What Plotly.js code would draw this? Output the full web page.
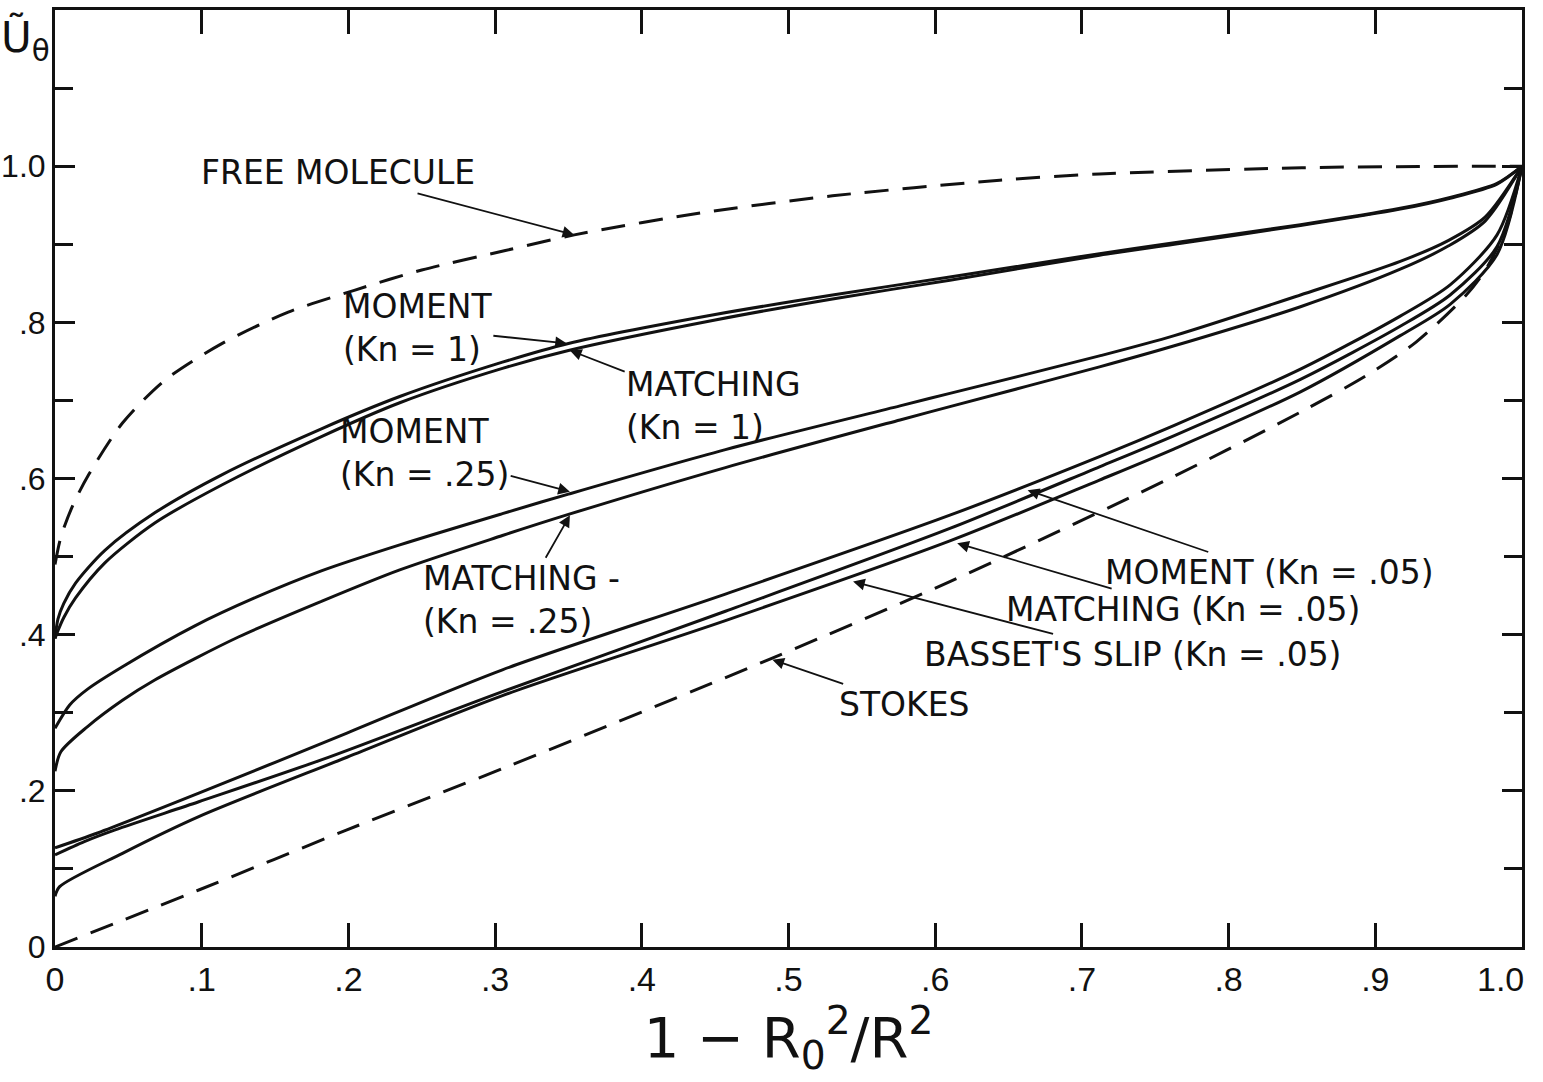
<!DOCTYPE html>
<html>
<head>
<meta charset="utf-8">
<script src="https://cdn.plot.ly/plotly-3.0.1.min.js"></script>
<style>html,body{margin:0;padding:0;background:#fff;}#chart{width:1543px;height:1082px;}</style>
</head>
<body>
<div id="chart"></div>
<script>
// ---- data ----
const xFree = [0, 0.004, 0.012, 0.023, 0.046, 0.075, 0.114, 0.159, 0.204, 0.25, 0.307, 0.354, 0.44, 0.53, 0.644, 0.712, 0.85, 0.93, 1.0];
const yFree = [0.49, 0.525, 0.565, 0.605, 0.671, 0.726, 0.773, 0.813, 0.841, 0.867, 0.892, 0.912, 0.94, 0.962, 0.982, 0.99, 0.998, 0.9995, 1.0];

const xMomKn1 = [0, 0.002, 0.006, 0.014, 0.034, 0.068, 0.114, 0.182, 0.235, 0.305, 0.35, 0.45, 0.53, 0.61, 0.712, 0.763, 0.849, 0.917, 0.951, 0.983, 1.0];
const yMomKn1 = [0.395, 0.42, 0.44, 0.466, 0.508, 0.556, 0.605, 0.664, 0.705, 0.749, 0.773, 0.81, 0.835, 0.858, 0.888, 0.902, 0.925, 0.946, 0.96, 0.978, 1.0];

const xMatKn1 = [0, 0.002, 0.006, 0.014, 0.034, 0.068, 0.114, 0.182, 0.235, 0.305, 0.35, 0.45, 0.53, 0.61, 0.712, 0.763, 0.849, 0.917, 0.951, 0.983, 1.0];
const yMatKn1 = [0.395, 0.405, 0.422, 0.447, 0.492, 0.543, 0.592, 0.654, 0.697, 0.741, 0.764, 0.803, 0.83, 0.854, 0.886, 0.9, 0.924, 0.945, 0.959, 0.977, 1.0];

const xMomKn25 = [0, 0.01, 0.022, 0.046, 0.095, 0.136, 0.182, 0.235, 0.305, 0.35, 0.457, 0.576, 0.61, 0.712, 0.763, 0.849, 0.917, 0.95, 0.975, 1.0];
const yMomKn25 = [0.28, 0.31, 0.33, 0.359, 0.411, 0.447, 0.482, 0.515, 0.555, 0.58, 0.637, 0.693, 0.709, 0.757, 0.783, 0.835, 0.878, 0.905, 0.935, 1.0];

const xMatKn25 = [0, 0.004, 0.022, 0.046, 0.068, 0.125, 0.182, 0.235, 0.305, 0.35, 0.457, 0.576, 0.61, 0.712, 0.763, 0.849, 0.917, 0.95, 0.975, 1.0];
const yMatKn25 = [0.225, 0.25, 0.282, 0.316, 0.342, 0.397, 0.443, 0.483, 0.527, 0.554, 0.614, 0.675, 0.692, 0.743, 0.77, 0.82, 0.868, 0.898, 0.93, 1.0];

const xMomKn05 = [0, 0.029, 0.098, 0.199, 0.305, 0.457, 0.61, 0.712, 0.763, 0.849, 0.917, 0.951, 0.983, 1.0];
const yMomKn05 = [0.127, 0.146, 0.197, 0.274, 0.355, 0.452, 0.553, 0.628, 0.668, 0.74, 0.808, 0.848, 0.912, 1.0];

const xMatKn05 = [0, 0.02, 0.041, 0.098, 0.182, 0.305, 0.457, 0.61, 0.712, 0.763, 0.849, 0.917, 0.951, 0.983, 1.0];
const yMatKn05 = [0.118, 0.135, 0.15, 0.186, 0.24, 0.327, 0.43, 0.536, 0.615, 0.655, 0.727, 0.795, 0.835, 0.897, 1.0];

const xBasset = [0, 0.003, 0.046, 0.098, 0.199, 0.305, 0.457, 0.61, 0.712, 0.763, 0.849, 0.917, 0.951, 0.983, 1.0];
const yBasset = [0.065, 0.077, 0.12, 0.167, 0.243, 0.322, 0.418, 0.52, 0.598, 0.638, 0.711, 0.783, 0.823, 0.887, 1.0];

const xStokes = [0, 0.098, 0.199, 0.307, 0.489, 0.61, 0.763, 0.849, 0.894, 0.928, 0.962, 0.976, 0.99, 1.0];
const yStokes = [0, 0.073, 0.15, 0.23, 0.37, 0.468, 0.603, 0.685, 0.732, 0.775, 0.835, 0.87, 0.925, 1.0];

const xTickVals = [0, 0.1, 0.2, 0.3, 0.4, 0.5, 0.6, 0.7, 0.8, 0.9, 1.0];
const xTickText = ['0', '.1', '.2', '.3', '.4', '.5', '.6', '.7', '.8', '.9', ''];
const xLastTickLabel = '1.0';
const yTickVals = [0, 0.2, 0.4, 0.6, 0.8, 1.0];
const yTickText = ['0', '.2', '.4', '.6', '.8', '1.0'];

const labelText = ['FREE MOLECULE', 'MOMENT<br>(Kn = 1)', 'MATCHING<br>(Kn = 1)', 'MOMENT<br>(Kn = .25)', 'MATCHING -<br>(Kn = .25)',
  'MOMENT (Kn = .05)', 'MATCHING (Kn = .05)', "BASSET'S SLIP (Kn = .05)", 'STOKES'];
const labelTipX = [0.354, 0.349, 0.351, 0.351, 0.351, 0.663, 0.615, 0.544, 0.489];
const labelTipY = [0.912, 0.773, 0.764, 0.583, 0.553, 0.585, 0.517, 0.468, 0.368];
const labelPosX = [0.193, 0.247, 0.449, 0.252, 0.318, 0.828, 0.769, 0.735, 0.579];
const labelPosY = [0.992, 0.793, 0.693, 0.633, 0.444, 0.479, 0.432, 0.374, 0.31];

// ---- drawing ----
const FONT = '"DejaVu Sans", sans-serif';
const TICKFONT = '"Liberation Sans", "DejaVu Sans", sans-serif';
function solid(x, y, name) {
  return {x: x, y: y, name: name, mode: 'lines', type: 'scatter',
    line: {color: '#111', width: 3, shape: 'spline', smoothing: 0.8}, hoverinfo: 'skip'};
}
function dashed(x, y, name) {
  return {x: x, y: y, name: name, mode: 'lines', type: 'scatter',
    line: {color: '#111', width: 3, dash: '24px,14px', shape: 'spline', smoothing: 0.8}, hoverinfo: 'skip'};
}
const traces = [
  dashed(xFree, yFree, 'Free molecule'),
  solid(xMomKn1, yMomKn1, 'Moment Kn=1'),
  solid(xMatKn1, yMatKn1, 'Matching Kn=1'),
  solid(xMomKn25, yMomKn25, 'Moment Kn=.25'),
  solid(xMatKn25, yMatKn25, 'Matching Kn=.25'),
  solid(xMomKn05, yMomKn05, 'Moment Kn=.05'),
  solid(xMatKn05, yMatKn05, 'Matching Kn=.05'),
  solid(xBasset, yBasset, "Basset's slip Kn=.05"),
  dashed(xStokes, yStokes, 'Stokes')
];

const annotations = labelText.map((t, i) => ({
  text: t, x: labelTipX[i], y: labelTipY[i], xref: 'x', yref: 'y',
  ax: labelPosX[i], ay: labelPosY[i], axref: 'x', ayref: 'y',
  showarrow: true, arrowhead: 2, arrowsize: 1.3, arrowwidth: 1.8, arrowcolor: '#111',
  align: 'left', font: {family: FONT, size: 33, color: '#111'}
}));
annotations.push({
  text: 'Ũ<sub>θ</sub>', xref: 'paper', yref: 'paper', x: -0.02, y: 1.0,
  xanchor: 'center', yanchor: 'top', showarrow: false,
  font: {family: FONT, size: 42, color: '#111'}
});
annotations.push({
  text: xLastTickLabel, xref: 'x', yref: 'y', x: xTickVals[xTickVals.length - 1], y: 0,
  xanchor: 'right', yanchor: 'top', xshift: 4, yshift: -11, showarrow: false,
  font: {family: TICKFONT, size: 34, color: '#111'}
});

const layout = {
  width: 1543, height: 1082,
  margin: {l: 55, r: 21, t: 10, b: 135},
  paper_bgcolor: '#fff', plot_bgcolor: '#fff',
  showlegend: false,
  font: {family: FONT, color: '#111'},
  xaxis: {
    range: [0, 1.0], tickmode: 'array', tickvals: xTickVals, ticktext: xTickText,
    ticks: 'inside', ticklen: 24, tickwidth: 3, tickcolor: '#111',
    showline: true, linewidth: 3, linecolor: '#111', mirror: 'ticks',
    showgrid: false, zeroline: false,
    tickfont: {family: TICKFONT, size: 34, color: '#111'},
    title: {text: '1 − R<sub>0</sub><sup>2</sup>/R<sup>2</sup>', font: {family: FONT, size: 56, color: '#111'}, standoff: 20}
  },
  yaxis: {
    range: [0, 1.2], tickmode: 'array', tickvals: yTickVals, ticktext: yTickText,
    ticks: 'inside', ticklen: 20, tickwidth: 3, tickcolor: '#111',
    minor: {dtick: 0.1, tick0: 0, ticks: 'inside', ticklen: 18, tickwidth: 3, tickcolor: '#111', showgrid: false},
    showline: true, linewidth: 3, linecolor: '#111', mirror: 'ticks',
    showgrid: false, zeroline: false, ticklabeloverflow: 'allow',
    tickfont: {family: TICKFONT, size: 32, color: '#111'}
  },
  annotations: annotations
};

Plotly.newPlot('chart', traces, layout, {staticPlot: true, displayModeBar: false});
</script>
</body>
</html>
